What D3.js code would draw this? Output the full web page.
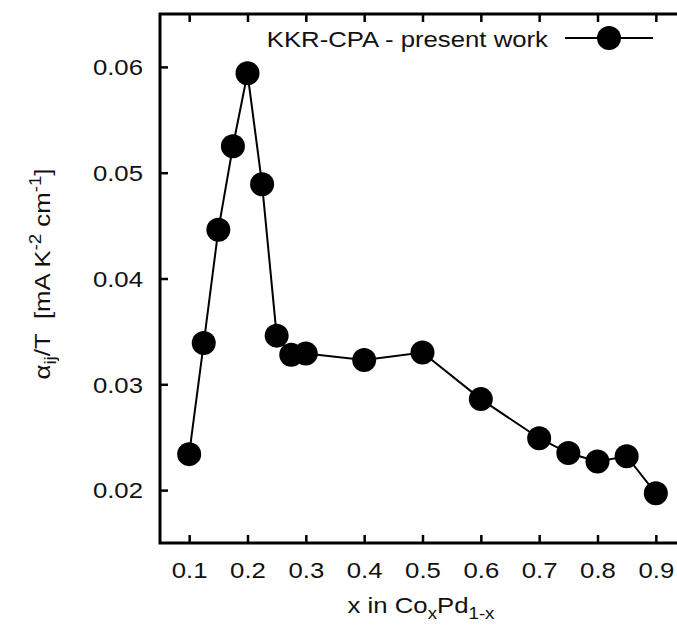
<!DOCTYPE html>
<html>
<head>
<meta charset="utf-8">
<script src="https://cdn.jsdelivr.net/npm/d3@7"></script>
<style>
  body { margin: 0; background: #fff; }
  svg { display: block; font-family: "Liberation Sans", Arial, Helvetica, sans-serif; }
</style>
</head>
<body>
<svg id="chart" width="677" height="625"></svg>
<script>
// Co concentration x and alpha_ij/T values
const concentrations = [0.1, 0.125, 0.15, 0.175, 0.2, 0.225, 0.25, 0.275, 0.3, 0.4, 0.5, 0.6, 0.7, 0.75, 0.8, 0.85, 0.9];
const alphaOverT = [0.0234, 0.0339, 0.0446, 0.0525, 0.0594, 0.0489, 0.0346, 0.0328, 0.0329, 0.0323, 0.0330, 0.0286, 0.0249, 0.0235, 0.0227, 0.0232, 0.0197];
const xTicks = [0.1, 0.2, 0.3, 0.4, 0.5, 0.6, 0.7, 0.8, 0.9];
const yTicks = [0.02, 0.03, 0.04, 0.05, 0.06];
const seriesLabel = "KKR-CPA - present work";

const svg = d3.select("#chart");
const margin = { left: 160, top: 14, right: 685, bottom: 543 };
const FS = 22;       // font size
const STRETCH = 1.17; // the original font is wider than Liberation Sans

const x = d3.scaleLinear().domain([0.05, 0.95]).range([margin.left, margin.right]);
const y = d3.scaleLinear().domain([0.015, 0.065]).range([margin.bottom, margin.top]);

const data = concentrations.map((c, i) => ({ x: c, y: alphaOverT[i] }));

const fmtY = d3.format(".2f");
const fmtX = d3.format(".1f");

// axes, ticks pointing inward
svg.append("g")
  .attr("transform", `translate(0,${margin.bottom})`)
  .call(d3.axisBottom(x).tickValues(xTicks).tickSize(-8).tickFormat(fmtX))
  .call(g => g.select(".domain").remove())
  .call(g => g.selectAll(".tick text")
    .attr("x", 0).attr("y", 0).attr("dy", null)
    .attr("transform", `translate(0,35) scale(${STRETCH},1)`));

svg.append("g")
  .attr("transform", `translate(0,${margin.top})`)
  .call(d3.axisTop(x).tickValues(xTicks).tickSize(-8).tickFormat(""))
  .call(g => g.select(".domain").remove());

svg.append("g")
  .attr("transform", `translate(${margin.left},0)`)
  .call(d3.axisLeft(y).tickValues(yTicks).tickSize(-8).tickFormat(fmtY))
  .call(g => g.select(".domain").remove())
  .call(g => g.selectAll(".tick text")
    .attr("x", 0).attr("dy", "0.35em")
    .attr("transform", `translate(-17,0) scale(${STRETCH},1)`));

svg.append("g")
  .attr("transform", `translate(${margin.right},0)`)
  .call(d3.axisRight(y).tickValues(yTicks).tickSize(-8).tickFormat(""))
  .call(g => g.select(".domain").remove());

svg.selectAll(".tick line").attr("stroke", "#000").attr("stroke-width", 2.5);
svg.selectAll(".tick text")
  .attr("fill", "#111")
  .style("font-size", FS + "px")
  .style("font-family", "'Liberation Sans', Arial, sans-serif");

// frame
svg.append("rect")
  .attr("x", margin.left)
  .attr("y", margin.top)
  .attr("width", margin.right - margin.left)
  .attr("height", margin.bottom - margin.top)
  .attr("fill", "none")
  .attr("stroke", "#000")
  .attr("stroke-width", 3);

// series line + markers
const line = d3.line().x(d => x(d.x)).y(d => y(d.y));

svg.append("path")
  .datum(data)
  .attr("d", line)
  .attr("fill", "none")
  .attr("stroke", "#000")
  .attr("stroke-width", 2);

svg.append("g")
  .selectAll("circle")
  .data(data)
  .join("circle")
  .attr("cx", d => x(d.x))
  .attr("cy", d => y(d.y))
  .attr("r", 12)
  .attr("fill", "#000");

// legend
svg.append("text")
  .attr("transform", `translate(548,47) scale(${STRETCH},1)`)
  .attr("text-anchor", "end")
  .style("font-size", FS + "px")
  .attr("fill", "#111")
  .text(seriesLabel);

svg.append("line")
  .attr("x1", 565).attr("x2", 653)
  .attr("y1", 38).attr("y2", 38)
  .attr("stroke", "#000")
  .attr("stroke-width", 2);

svg.append("circle")
  .attr("cx", 609).attr("cy", 38).attr("r", 12).attr("fill", "#000");

// x axis label
const xl = svg.append("text")
  .attr("transform", `translate(421,613) scale(${STRETCH},1)`)
  .attr("text-anchor", "middle")
  .style("font-size", FS + "px")
  .attr("fill", "#111");
xl.append("tspan").text("x in Co");
xl.append("tspan").attr("dy", 6).style("font-size", "16px").text("x");
xl.append("tspan").attr("dy", -6).text("Pd");
xl.append("tspan").attr("dy", 6).style("font-size", "16px").text("1-x");

// y axis label
const yl = svg.append("text")
  .attr("transform", `translate(50,274) rotate(-90) scale(${STRETCH},1)`)
  .attr("text-anchor", "middle")
  .style("font-size", FS + "px")
  .attr("fill", "#111");
yl.append("tspan").text("\u03b1");
yl.append("tspan").attr("dy", 6).style("font-size", "16px").text("ij");
yl.append("tspan").attr("dy", -6).text("/T\u00a0\u00a0[mA K");
yl.append("tspan").attr("dy", -9).style("font-size", "16px").text("-2");
yl.append("tspan").attr("dy", 9).text("\u00a0cm");
yl.append("tspan").attr("dy", -9).style("font-size", "16px").text("-1");
yl.append("tspan").attr("dy", 9).text("]");
</script>
</body>
</html>
